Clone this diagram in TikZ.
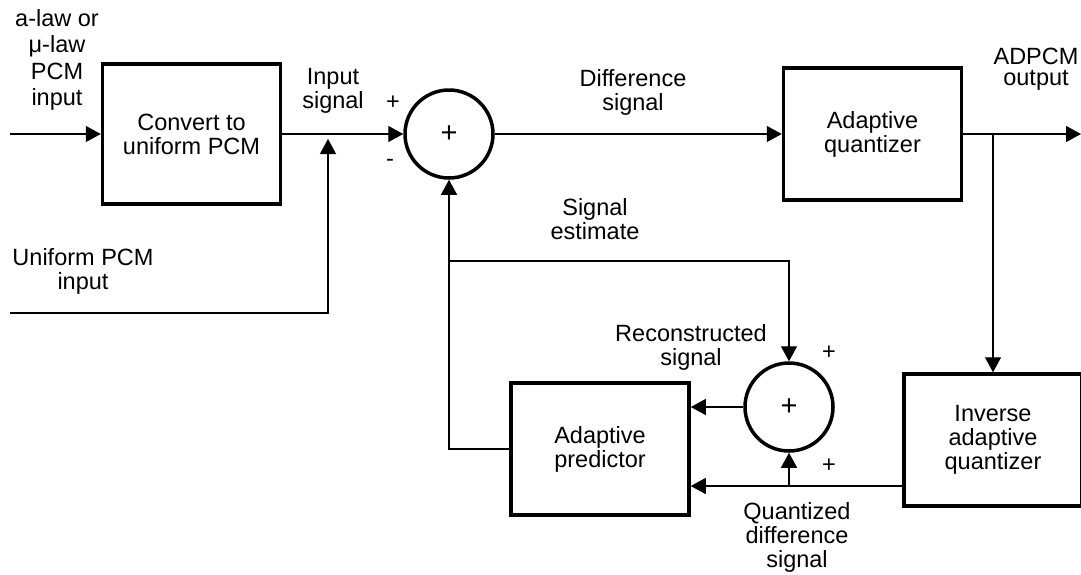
\documentclass[tikz,border=0pt]{standalone}
\usepackage{fontspec}
\setmainfont{Liberation Sans}
\usetikzlibrary{arrows.meta,positioning,calc}
\newcommand\blockfont{\fontsize{23.5}{24}\selectfont}
\tikzset{
  block/.style={draw, line width=3.5pt, minimum width=178pt, minimum height=132pt,
                align=center, font=\blockfont},
  summer/.style={circle, draw, line width=3.5pt, minimum size=88pt, inner sep=0pt,
                 font=\fontsize{29}{29}\selectfont},
  wire/.style={line width=1.3pt},
  arr/.style={wire, -{Triangle[length=15pt,width=16pt]}},
  lbl/.style={align=center, font=\blockfont, inner sep=0pt},
}

\begin{document}
\begin{tikzpicture}[x=1pt, y=-1pt]
  \useasboundingbox (0,0) rectangle (1081,574);
  % forward path
  \node[block, minimum height=140pt] (conv) at (191.5,134) {Convert to\\uniform PCM};
  \node[summer, right=121pt of conv] (sum1) {+};
  \node[block, right=287pt of sum1] (aq) {Adaptive\\quantizer};
  % feedback path
  \node[block] (iaq) at (993,440) {Inverse\\adaptive\\quantizer};
  \node[summer] (sum2) at (789,407) {+};
  \node[block] (pred) at (600,449) {Adaptive\\predictor};

  \coordinate (inA) at (10,134);
  \coordinate (inU) at (10,313);
  \coordinate (j1) at (328,134);
  \coordinate (out) at (1081,134);
  \coordinate (est) at (449,261);
  \coordinate (j3) at (789,486);

  % labels
  \node[lbl, font=\fontsize{23.5}{26.3}\selectfont] (lawlbl) at (57,60) {a-law or\\μ-law\\PCM\\input};
  \node[lbl] (uniflbl) at (83,271) {Uniform PCM\\input};
  \node[lbl] (insiglbl) at (333,91) {Input\\signal};
  \node[lbl] (plus1) at (393,103) {+};
  \node[lbl] (minus1) at (390,163) {-};
  \node[lbl] (difflbl) at (633,92) {Difference\\signal};
  \node[lbl, font=\fontsize{23.5}{21.5}\selectfont] (outlbl) at (1036,69) {ADPCM\\output};
  \node[lbl] (estlbl) at (595,219) {Signal\\estimate};
  \node[lbl] (reclbl) at (691,347) {Reconstructed\\signal};
  \node[lbl] (plus2) at (829,353) {+};
  \node[lbl] (plus3) at (829,466) {+};
  \node[lbl] (qdlbl) at (797,537) {Quantized\\difference\\signal};

  % connectors
  \draw[arr] (inA) -- (inA -| conv.west);
  \draw[arr] (conv.east) -- (sum1.west);
  \draw[arr, shorten >=5pt] (inU) -| (j1);
  \draw[arr] (sum1) -- (aq);
  \draw[arr] (aq.east) -- (out);
  \draw[arr] (iaq.north |- aq.east) -- (iaq.north);
  \draw[arr] (pred.west) -| (sum1.south);
  \draw[arr] (est) -| (sum2.north);
  \draw[arr] (sum2.west) -- (sum2.west -| pred.east);
  \draw[arr] (iaq.west |- j3) -- (j3 -| pred.east);
  \draw[arr] (j3) -- (sum2.south);
\end{tikzpicture}
\end{document}
